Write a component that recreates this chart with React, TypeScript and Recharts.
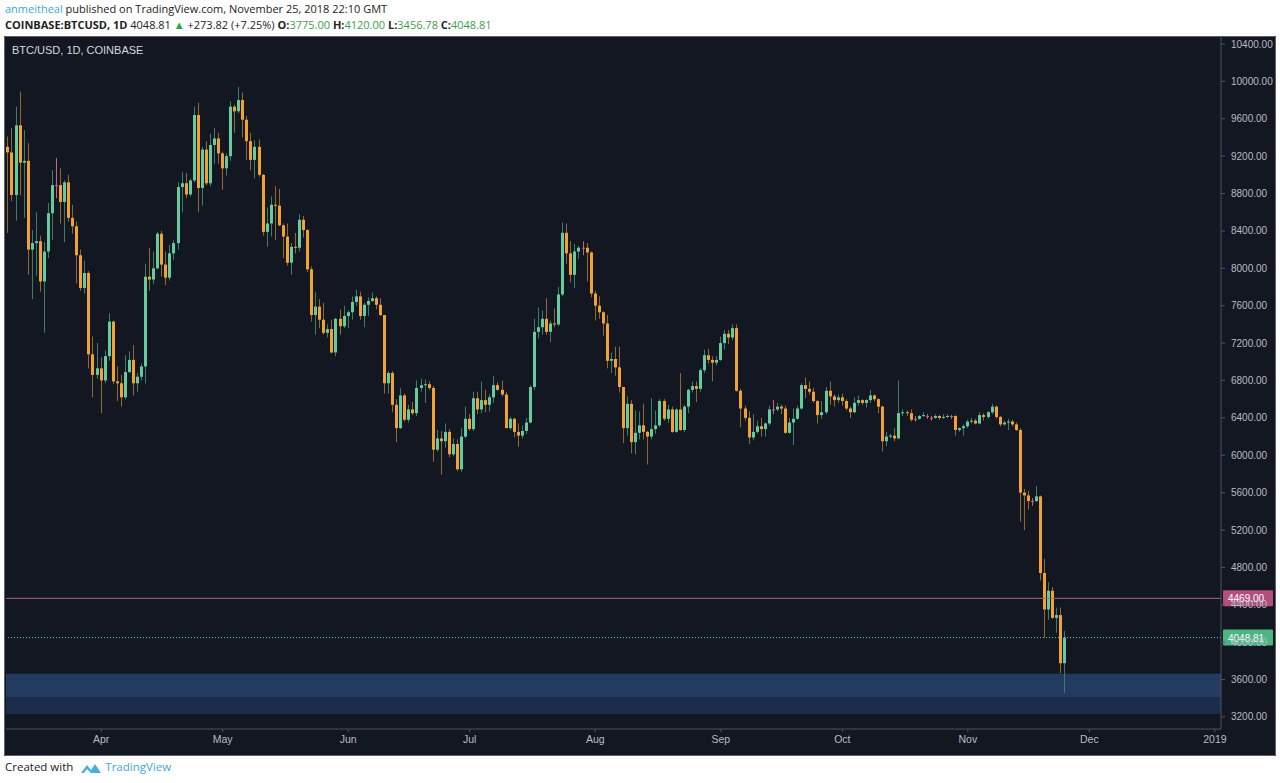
import React from "react";
import { ComposedChart, Bar, XAxis, YAxis, ReferenceLine, ReferenceArea } from "recharts";

// daily candles, Coinbase BTC/USD, starting 2018-03-09
const opens = [
  9300, 9240, 8785, 9530, 9130, 9150, 8200, 8270, 8290, 7860, 8180, 8590, 8890, 8890, 8710, 8920, 8540, 8450, 8140, 7790,
  7950, 7080, 6860, 6930, 6800, 7060, 7430, 6790, 6770, 6620, 6890, 7020, 6770, 6840, 6950, 7910, 7880, 8000, 8370, 8040,
  7900, 8160, 8270, 8870, 8910, 8790, 8940, 9640, 8860, 9270, 8910, 9320, 9390, 9230, 9070, 9200, 9730, 9680, 9800, 9590,
  9360, 9160, 9300, 9000, 8390, 8480, 8680, 8670, 8460, 8340, 8060, 8230, 8220, 8520, 8410, 7990, 7500, 7590, 7450, 7310,
  7350, 7100, 7460, 7380, 7490, 7530, 7640, 7700, 7490, 7610, 7650, 7680, 7610, 7500, 6770, 6880, 6540, 6290, 6640, 6380,
  6490, 6450, 6720, 6750, 6760, 6720, 6060, 6180, 6150, 6250, 6010, 6120, 5850, 6200, 6390, 6280, 6610, 6490, 6590, 6540,
  6620, 6750, 6700, 6650, 6290, 6390, 6250, 6210, 6260, 6350, 6730, 7320, 7370, 7460, 7320, 7410, 7400, 7720, 8380, 8160,
  7930, 8180, 8220, 8220, 8170, 7730, 7600, 7530, 7410, 7010, 7030, 6940, 6730, 6290, 6550, 6140, 6240, 6320, 6250, 6200,
  6280, 6320, 6580, 6390, 6490, 6250, 6490, 6270, 6520, 6700, 6740, 6710, 6910, 7070, 7020, 6990, 7020, 7200, 7300, 7260,
  7360, 6690, 6500, 6400, 6190, 6250, 6310, 6280, 6340, 6490, 6490, 6520, 6500, 6240, 6350, 6390, 6500, 6750, 6710, 6680,
  6580, 6430, 6460, 6690, 6630, 6590, 6620, 6580, 6500, 6460, 6560, 6590, 6560, 6590, 6640, 6600, 6520, 6150, 6200, 6210,
  6180, 6450, 6460, 6450, 6390, 6390, 6420, 6420, 6400, 6400, 6420, 6400, 6410, 6420, 6420, 6270, 6290, 6310, 6360, 6370,
  6340, 6430, 6410, 6460, 6520, 6410, 6330, 6350, 6360, 6330, 6270, 5600, 5570, 5510, 5510, 5560, 4740, 4350, 4550, 4260,
  4290, 3775,
];
const highs = [
  9410, 9500, 9730, 9890, 9480, 9340, 8410, 8600, 8350, 8280, 8700, 9050, 9180, 9070, 8940, 9000, 8680, 8500, 8200, 8080,
  7970, 7270, 7200, 7050, 7120, 7520, 7440, 6950, 6860, 7070, 7110, 7180, 6880, 6980, 8050, 8220, 8180, 8390, 8400, 8180,
  8250, 8300, 8920, 9030, 9020, 8960, 9730, 9770, 9300, 9360, 9440, 9500, 9450, 9250, 9230, 9790, 9750, 9940, 9880, 9630,
  9450, 9370, 9380, 9010, 8650, 8770, 8880, 8850, 8480, 8480, 8270, 8380, 8580, 8560, 8420, 8020, 7750, 7670, 7630, 7400,
  7450, 7470, 7560, 7600, 7550, 7700, 7770, 7750, 7630, 7690, 7740, 7700, 7680, 7500, 6900, 6900, 6600, 6720, 6660, 6540,
  6570, 6800, 6820, 6810, 6790, 6740, 6270, 6260, 6340, 6280, 6180, 6170, 6290, 6520, 6440, 6680, 6680, 6790, 6700, 6650,
  6850, 6780, 6800, 6680, 6410, 6400, 6340, 6320, 6400, 6750, 7460, 7580, 7550, 7680, 7440, 7570, 7800, 8490, 8480, 8290,
  8260, 8240, 8290, 8270, 8180, 7760, 7700, 7540, 7500, 7100, 7160, 7160, 6730, 6630, 6590, 6480, 6470, 6550, 6260, 6610,
  6480, 6600, 6600, 6540, 6520, 6500, 6880, 6540, 6710, 6790, 6790, 6930, 7130, 7140, 7060, 7060, 7270, 7340, 7340, 7400,
  7400, 6710, 6530, 6470, 6440, 6370, 6400, 6350, 6530, 6590, 6560, 6540, 6530, 6400, 6500, 6530, 6770, 6830, 6790, 6720,
  6590, 6580, 6730, 6790, 6650, 6650, 6660, 6600, 6520, 6620, 6640, 6600, 6600, 6700, 6650, 6610, 6530, 6250, 6230, 6290,
  6800, 6490, 6480, 6490, 6420, 6430, 6460, 6440, 6420, 6440, 6430, 6440, 6440, 6430, 6430, 6300, 6330, 6380, 6400, 6390,
  6460, 6450, 6470, 6550, 6530, 6420, 6370, 6390, 6380, 6350, 6290, 5640, 5620, 5540, 5670, 5570, 4890, 4640, 4590, 4370,
  4370, 4120,
];
const lows = [
  8380, 8720, 8510, 8780, 8540, 7930, 7670, 7920, 7750, 7310, 8110, 8300, 8750, 8480, 8280, 8500, 8370, 7840, 7760, 7730,
  6930, 6620, 6820, 6450, 6770, 7010, 6760, 6580, 6520, 6600, 6880, 6640, 6680, 6800, 6770, 7760, 7830, 7990, 7910, 7820,
  7870, 8090, 8200, 8600, 8750, 8770, 8920, 8600, 8670, 8890, 8880, 9120, 9120, 8840, 8990, 9150, 9450, 9660, 9400, 9160,
  9050, 8960, 8980, 8350, 8230, 8340, 8300, 8450, 8110, 8030, 7930, 8160, 8180, 8330, 7960, 7430, 7290, 7360, 7290, 7260,
  7090, 7060, 7290, 7360, 7360, 7450, 7600, 7450, 7370, 7490, 7640, 7560, 7490, 6660, 6660, 6460, 6140, 6280, 6360, 6350,
  6430, 6420, 6680, 6560, 6700, 5930, 6040, 5790, 6080, 5980, 5990, 5830, 5820, 6180, 6260, 6260, 6440, 6450, 6460, 6470,
  6560, 6690, 6630, 6290, 6270, 6190, 6090, 6180, 6230, 6340, 6700, 7250, 7290, 7290, 7210, 7370, 7380, 7700, 8050, 7850,
  7790, 8100, 8140, 7860, 7690, 7440, 7460, 7280, 6930, 6880, 6850, 6670, 6130, 6210, 6020, 6010, 6170, 6170, 5900, 6170,
  6230, 6300, 6370, 6350, 6240, 6240, 6260, 6250, 6450, 6670, 6570, 6680, 6880, 6980, 6790, 6960, 7010, 7130, 7190, 7230,
  6680, 6300, 6370, 6120, 6160, 6230, 6200, 6200, 6320, 6440, 6470, 6440, 6230, 6230, 6110, 6380, 6490, 6610, 6650, 6560,
  6340, 6390, 6440, 6540, 6520, 6560, 6530, 6480, 6400, 6450, 6530, 6540, 6510, 6560, 6580, 6450, 6040, 6100, 6180, 6150,
  6170, 6420, 6420, 6360, 6360, 6380, 6410, 6390, 6370, 6390, 6380, 6390, 6400, 6390, 6210, 6250, 6210, 6290, 6340, 6330,
  6330, 6370, 6390, 6440, 6390, 6310, 6320, 6270, 6310, 6260, 5290, 5200, 5420, 5460, 5500, 4660, 4050, 4240, 4250, 4100,
  3670, 3456.78,
];
const closes = [
  9240, 8785, 9530, 9130, 9150, 8200, 8270, 8290, 7860, 8180, 8590, 8890, 8890, 8710, 8920, 8540, 8450, 8140, 7790, 7950,
  7080, 6860, 6930, 6800, 7060, 7430, 6790, 6770, 6620, 6890, 7020, 6770, 6840, 6950, 7910, 7880, 8000, 8370, 8040, 7900,
  8160, 8270, 8870, 8910, 8790, 8940, 9640, 8860, 9270, 8910, 9320, 9390, 9230, 9070, 9200, 9730, 9680, 9800, 9590, 9360,
  9160, 9300, 9000, 8390, 8480, 8680, 8670, 8460, 8340, 8060, 8230, 8220, 8520, 8410, 7990, 7500, 7590, 7450, 7310, 7350,
  7100, 7460, 7380, 7490, 7530, 7640, 7700, 7490, 7610, 7650, 7680, 7610, 7500, 6770, 6880, 6540, 6290, 6640, 6380, 6490,
  6450, 6720, 6750, 6760, 6720, 6060, 6180, 6150, 6250, 6010, 6120, 5850, 6200, 6390, 6280, 6610, 6490, 6590, 6540, 6620,
  6750, 6700, 6650, 6290, 6390, 6250, 6210, 6260, 6350, 6730, 7320, 7370, 7460, 7320, 7410, 7400, 7720, 8380, 8160, 7930,
  8180, 8220, 8220, 8170, 7730, 7600, 7530, 7410, 7010, 7030, 6940, 6730, 6290, 6550, 6140, 6240, 6320, 6250, 6200, 6280,
  6320, 6580, 6390, 6490, 6250, 6490, 6270, 6520, 6700, 6740, 6710, 6910, 7070, 7020, 6990, 7020, 7200, 7300, 7260, 7360,
  6690, 6500, 6400, 6190, 6250, 6310, 6280, 6340, 6490, 6490, 6520, 6500, 6240, 6350, 6390, 6500, 6750, 6710, 6680, 6580,
  6430, 6460, 6690, 6630, 6590, 6620, 6580, 6500, 6460, 6560, 6590, 6560, 6590, 6640, 6600, 6520, 6150, 6200, 6210, 6180,
  6450, 6460, 6450, 6380, 6390, 6420, 6430, 6420, 6400, 6420, 6400, 6410, 6420, 6420, 6270, 6290, 6310, 6360, 6370, 6340,
  6430, 6410, 6460, 6520, 6410, 6330, 6350, 6360, 6330, 6270, 5600, 5570, 5510, 5510, 5560, 4740, 4350, 4550, 4260, 4290,
  3775, 4048.81,
];

const priceTicks = [3200, 3600, 4000, 4400, 4800, 5200, 5600, 6000, 6400, 6800, 7200, 7600, 8000, 8400, 8800, 9200, 9600, 10000, 10400];
const monthTicks = ["2018-04-01", "2018-05-01", "2018-06-01", "2018-07-01", "2018-08-01", "2018-09-01", "2018-10-01", "2018-11-01", "2018-12-01", "2019-01-01"];
const monthLabels = ["Apr", "May", "Jun", "Jul", "Aug", "Sep", "Oct", "Nov", "Dec", "2019"];

const supportZone = [3414, 3663];
const supportZoneLow = [3232, 3414];
const resistance = 4469;
const lastPrice = 4048.81;

const START = Date.UTC(2018, 2, 9);
const DAYS = 300;

const data = Array.from({ length: DAYS }, (_, i) => {
  const date = new Date(START + i * 86400000).toISOString().slice(0, 10);
  if (i >= closes.length) return { date };
  return {
    date,
    open: opens[i],
    high: highs[i],
    low: lows[i],
    close: closes[i],
    range: [lows[i], highs[i]],
  };
});

const UP = "#67cba0";
const DOWN = "#f2a233";
const UP_WICK = "#3f7d68";
const DOWN_WICK = "#8e6a34";
const DOJI = "#d2607f";
const BG = "#131722";
const AXIS = "#4f535f";
const TEXT = "#b8bbc4";
const AXIS_FONT = "Liberation Sans, Arial, sans-serif";

const Candle = (props: any) => {
  const { x, y, width, height, payload } = props;
  if (!payload || payload.open == null) return null;
  const { open, close, high, low } = payload;
  const top = Math.min(y, y + height);
  const h = Math.abs(height);
  const py = (v: number) => top + ((high - v) / (high - low || 1)) * h;
  const cx = Math.floor(x + width / 2);
  const up = close > open;
  const flat = close === open;
  const body = flat ? DOJI : up ? UP : DOWN;
  const wick = flat ? DOJI : up ? UP_WICK : DOWN_WICK;
  const b1 = py(Math.max(open, close));
  const b2 = py(Math.min(open, close));
  return (
    <g>
      <rect x={cx} y={top} width={1} height={Math.max(h, 1)} fill={wick} />
      <rect x={cx - 1} y={b1} width={3} height={Math.max(b2 - b1, 1)} fill={body} />
    </g>
  );
};

// tag on the price scale, drawn over the tick label it sits on
const PriceTag = ({ viewBox, value, color }: any) => {
  if (!viewBox) return null;
  const x = viewBox.x + viewBox.width + 2;
  const y = viewBox.y;
  return (
    <g>
      <rect x={x} y={y - 8} width={50} height={16} fill={color} rx={1} />
      <text x={x + 5} y={y + 4} fill="#ffffff" fontSize={10} fontFamily={AXIS_FONT}>
        {value}
      </text>
    </g>
  );
};

const Logo = () => (
  <svg width="22" height="14" viewBox="0 0 22 14" style={{ verticalAlign: "middle" }}>
    <path d="M1 12 L7 4 L11 9 L15 3 L21 12 Z" fill="#45b0e0" />
    <path d="M4 12 L7 8 L11 12 Z" fill="#ffffff" />
  </svg>
);

export default function App() {
  return (
    <div style={{ position: "absolute", left: 0, top: 0, width: 1280, height: 783, background: "#ffffff", overflow: "hidden" }}>
      <div style={{ position: "absolute", left: 5, top: 1, fontFamily: "Open Sans, sans-serif", lineHeight: "16px", color: "#222", whiteSpace: "nowrap" }}>
        <div style={{ fontSize: 11 }}>
          <span style={{ color: "#3aa6dd" }}>anmeitheal</span> published on TradingView.com, November 25, 2018 22:10 GMT
        </div>
        <div style={{ fontSize: 11 }}>
          <b>COINBASE:BTCUSD, 1D</b> 4048.81 <span style={{ color: "#2ea043" }}>▲</span> +273.82 (+7.25%) <b>O:</b>
          <span style={{ color: "#3d9e4a" }}>3775.00</span> <b>H:</b>
          <span style={{ color: "#3d9e4a" }}>4120.00</span> <b>L:</b>
          <span style={{ color: "#3d9e4a" }}>3456.78</span> <b>C:</b>
          <span style={{ color: "#3d9e4a" }}>4048.81</span>
        </div>
      </div>

      <div style={{ position: "absolute", left: 4, top: 36, width: 1272, height: 720, background: BG, border: "1px solid #5c606c", boxSizing: "border-box" }} />

      <div style={{ position: "absolute", left: 0, top: 0 }}>
        <ComposedChart width={1280} height={783} data={data} margin={{ top: 37, right: 5, bottom: 27, left: 6 }}>
          <ReferenceArea y1={supportZoneLow[0]} y2={supportZoneLow[1]} fill="#1b2b4a" fillOpacity={1} stroke="none" />
          <ReferenceArea y1={supportZone[0]} y2={supportZone[1]} fill="#213c60" fillOpacity={1} stroke="none" />
          <XAxis
            dataKey="date"
            ticks={monthTicks}
            interval={0}
            tickFormatter={(v: string) => monthLabels[monthTicks.indexOf(v)] ?? ""}
            height={27}
            tickSize={3}
            tickMargin={4}
            stroke={AXIS}
            tick={{ fill: TEXT, fontSize: 10.5, fontFamily: AXIS_FONT }}
          />
          <YAxis
            orientation="right"
            domain={[3071, 10475]}
            ticks={priceTicks}
            allowDataOverflow
            width={54}
            tickSize={4}
            tickMargin={6}
            stroke={AXIS}
            tickFormatter={(v: number) => v.toFixed(2)}
            tick={{ fill: TEXT, fontSize: 10, fontFamily: AXIS_FONT }}
          />
          <Bar dataKey="range" shape={<Candle />} isAnimationActive={false} />
          <ReferenceLine y={resistance} stroke="#a8637f" strokeWidth={1} label={<PriceTag value="4469.00" color="#b24f7c" />} />
          <ReferenceLine y={lastPrice} stroke="#72d3b5" strokeDasharray="1 2" strokeWidth={1} label={<PriceTag value="4048.81" color="#4db482" />} />
        </ComposedChart>
      </div>

      <div style={{ position: "absolute", left: 12, top: 44, color: "#d6d8de", fontFamily: "Liberation Sans, sans-serif", fontSize: 11 }}>
        BTC/USD, 1D, COINBASE
      </div>

      <div style={{ position: "absolute", left: 5, top: 759, fontFamily: "Open Sans, sans-serif", fontSize: 11.5, color: "#222", whiteSpace: "nowrap" }}>
        Created with <span style={{ marginLeft: 4 }}><Logo /></span>{" "}
        <span style={{ color: "#45a6d6" }}>TradingView</span>
      </div>
    </div>
  );
}
